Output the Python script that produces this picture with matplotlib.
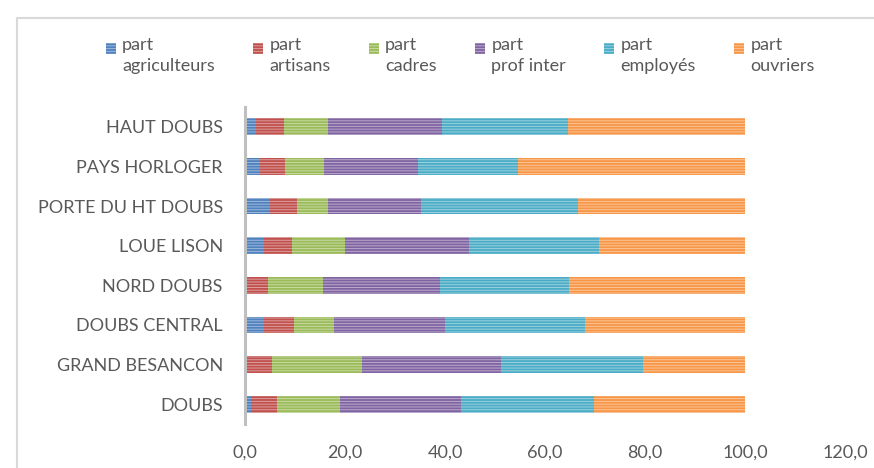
import matplotlib
matplotlib.use("Agg")
import matplotlib.pyplot as plt
from matplotlib.patches import Rectangle
from matplotlib.legend_handler import HandlerPatch
from matplotlib.lines import Line2D
from matplotlib.ticker import FuncFormatter
import numpy as np

categories = ["HAUT DOUBS", "PAYS HORLOGER", "PORTE DU HT DOUBS", "LOUE LISON",
              "NORD DOUBS", "DOUBS CENTRAL", "GRAND BESANCON", "DOUBS"]
series_names = ["part\nagriculteurs", "part\nartisans", "part\ncadres",
                "part\nprof inter", "part\nemployés", "part\nouvriers"]
agriculteurs = [2.1, 3.0, 5.0, 3.8, 0.0, 3.8, 0.0, 1.1]
artisans = [5.7, 5.0, 5.3, 5.6, 4.5, 6.0, 5.4, 5.2]
cadres = [8.7, 7.8, 6.3, 10.6, 11.0, 8.0, 17.9, 12.7]
prof_inter = [22.8, 18.8, 18.6, 24.8, 23.5, 22.2, 27.9, 24.2]
employes = [25.2, 19.9, 31.3, 25.9, 25.7, 28.0, 28.3, 26.6]
ouvriers = [35.5, 45.5, 33.5, 29.3, 35.3, 32.0, 20.5, 30.2]
xticks = [0, 20, 40, 60, 80, 100, 120]

colors = ["#4F81BD", "#C0504D", "#9BBB59", "#8064A2", "#4BACC6", "#F79646"]
text_color = "#595959"
FONT = ["Lato", "DejaVu Sans"]
FS = 13

plt.rcParams['font.family'] = FONT
plt.rcParams['hatch.linewidth'] = 0.7

def lighten(c, f=0.45):
    c = np.array(matplotlib.colors.to_rgb(c))
    return tuple(c + (1 - c) * f)

W, H = 874, 468
fig = plt.figure(figsize=(W / 100, H / 100), dpi=100)
ax = fig.add_axes([245 / W, 1 - 424 / H, 600 / W, (424 - 107) / H])

data = [agriculteurs, artisans, cadres, prof_inter, employes, ouvriers]
y = np.arange(len(categories))
left = np.zeros(len(categories))
handles = []
for vals, col, name in zip(data, colors, series_names):
    vals = np.array(vals)
    b = ax.barh(y, vals, left=left, height=0.42, color=col,
                edgecolor=lighten(col), linewidth=0, hatch="------", label=name)
    handles.append(b.patches[0])
    left += vals

ax.set_xlim(0, 120)
ax.set_ylim(len(categories) - 0.5, -0.5)
ax.set_yticks(y)
ax.set_yticklabels(categories)
ax.set_xticks(xticks)
ax.xaxis.set_major_formatter(FuncFormatter(lambda v, p: f"{v:.1f}".replace(".", ",")))
ax.tick_params(axis="both", length=0, colors=text_color, labelsize=FS)
ax.tick_params(axis="y", pad=16)
ax.tick_params(axis="x", pad=15)
for s in ["top", "right", "bottom"]:
    ax.spines[s].set_visible(False)
ax.spines["left"].set_color("#BFBFBF")
ax.spines["left"].set_linewidth(2.2)


def top_square(legend, orig_handle, xdescent, ydescent, width, height, fontsize):
    s = 0.55 * fontsize
    return Rectangle((-xdescent + width - s, -ydescent + height - s * 1.15), s, s * 1.1)

hm = {h: HandlerPatch(patch_func=top_square) for h in handles}
leg = fig.legend(handles=handles, labels=series_names, ncol=6, loc="upper center",
                 bbox_to_anchor=(460 / W, 1 - 21 / H), frameon=False, fontsize=FS,
                 handlelength=0.6, handleheight=2.0, handletextpad=0.35,
                 columnspacing=2.07, labelspacing=0.2, handler_map=hm)
for t in leg.get_texts():
    t.set_color(text_color)
    t.set_linespacing(1.35)

# chart frame (cropped screenshot)
fig.add_artist(Line2D([17 / W, 17 / W, 1.0], [0.0, 1 - 18 / H, 1 - 18 / H],
                      transform=fig.transFigure, color="#D9D9D9", linewidth=1.5))

fig.savefig("out.png", dpi=100)
